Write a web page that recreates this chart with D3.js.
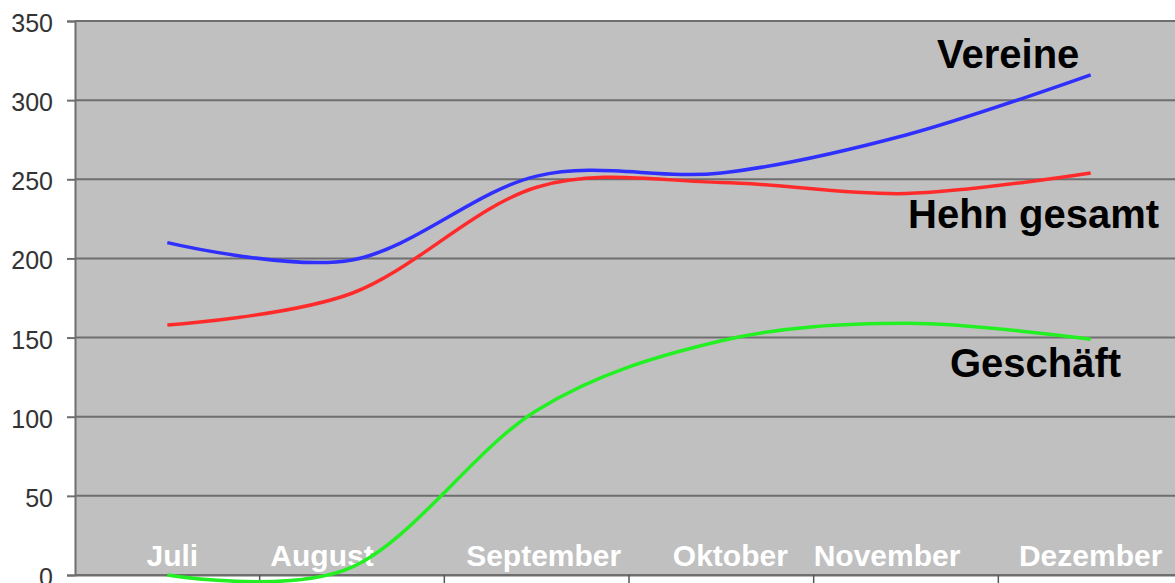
<!DOCTYPE html>
<html>
<head>
<meta charset="utf-8">
<script src="https://cdn.jsdelivr.net/npm/d3@7"></script>
<style>
  body { margin: 0; background: #fff; }
  text { font-family: "Liberation Sans", Arial, sans-serif; }
</style>
</head>
<body>
<div id="chart"></div>
<script>
var width = 1175;
var height = 583;

// data
var months = ["Juli", "August", "September", "Oktober", "November", "Dezember"];
var vereine = [210, 199, 252, 254, 278, 316];
var hehnGesamt = [158, 178, 245, 248, 241, 254];
var geschaeft = [0, 5, 104, 148, 159, 149];
var yTicks = [0, 50, 100, 150, 200, 250, 300, 350];

var series = [
  {name: "Vereine", values: vereine, color: "#2f2fff", lx: 937, ly: 68},
  {name: "Hehn gesamt", values: hehnGesamt, color: "#ff2b2b", lx: 908, ly: 228},
  {name: "Geschäft", values: geschaeft, color: "#22f022", lx: 950, ly: 377}
];
// month labels are not exactly centred in the original
var labelShift = [5, -30, 7, 9, -19, 0];

var plotLeft = 75, plotTop = 21, plotRight = 1183, plotBottom = 575;

var svg = d3.select("#chart")
  .append("svg")
  .attr("width", width)
  .attr("height", height);

var x = d3.scaleBand().domain(months).range([plotLeft, plotRight]);
var y = d3.scaleLinear().domain([0, 350]).range([plotBottom, plotTop]);

// plot area
svg.append("rect")
  .attr("x", plotLeft)
  .attr("y", plotTop)
  .attr("width", plotRight - plotLeft)
  .attr("height", plotBottom - plotTop)
  .attr("fill", "#c0c0c0");

// gridlines
svg.selectAll(".grid")
  .data(yTicks)
  .enter()
  .append("line")
  .attr("x1", plotLeft)
  .attr("x2", plotRight)
  .attr("y1", function(d) { return y(d); })
  .attr("y2", function(d) { return y(d); })
  .attr("stroke", "#6e6e6e")
  .attr("stroke-width", 2);

// y axis
var yAxis = d3.axisLeft(y).tickValues(yTicks).tickSize(8).tickPadding(14);
var gy = svg.append("g")
  .attr("transform", "translate(" + plotLeft + ",0)")
  .call(yAxis);
gy.select(".domain").attr("stroke", "#6e6e6e").attr("stroke-width", 2);
gy.selectAll(".tick line").attr("stroke", "#6e6e6e").attr("stroke-width", 2);
gy.selectAll(".tick text")
  .attr("font-size", 25)
  .attr("fill", "#333")
  .attr("dy", "0.42em")
  .style("font-family", "'Liberation Sans', Arial, sans-serif");

// x axis tick marks at band boundaries
var xAxis = d3.axisBottom(x).tickSize(0).tickFormat("");
var gx = svg.append("g")
  .attr("transform", "translate(0," + plotBottom + ")")
  .call(xAxis);
gx.select(".domain").attr("stroke", "#6e6e6e").attr("stroke-width", 2);
gx.selectAll(".bound")
  .data(months.slice(1))
  .enter()
  .append("line")
  .attr("x1", function(d) { return x(d); })
  .attr("x2", function(d) { return x(d); })
  .attr("y1", 0)
  .attr("y2", 8)
  .attr("stroke", "#555")
  .attr("stroke-width", 1.5);

// month labels inside the plot
svg.selectAll(".month")
  .data(months)
  .enter()
  .append("text")
  .attr("x", function(d, i) { return x(d) + x.bandwidth() / 2 + labelShift[i]; })
  .attr("y", 566)
  .attr("text-anchor", "middle")
  .attr("font-size", 30)
  .attr("font-weight", "bold")
  .attr("fill", "#fff")
  .text(function(d) { return d; });

// smoothed lines
var line = d3.line()
  .x(function(d, i) { return x(months[i]) + x.bandwidth() / 2; })
  .y(function(d) { return y(d); })
  .curve(d3.curveCardinal.tension(0));

svg.selectAll(".series")
  .data(series)
  .enter()
  .append("path")
  .attr("d", function(d) { return line(d.values); })
  .attr("fill", "none")
  .attr("stroke", function(d) { return d.color; })
  .attr("stroke-width", 3.5);

// series labels
svg.selectAll(".slabel")
  .data(series)
  .enter()
  .append("text")
  .attr("x", function(d) { return d.lx; })
  .attr("y", function(d) { return d.ly; })
  .attr("font-size", 40)
  .attr("font-weight", "bold")
  .attr("fill", "#000")
  .text(function(d) { return d.name; });
</script>
</body>
</html>
